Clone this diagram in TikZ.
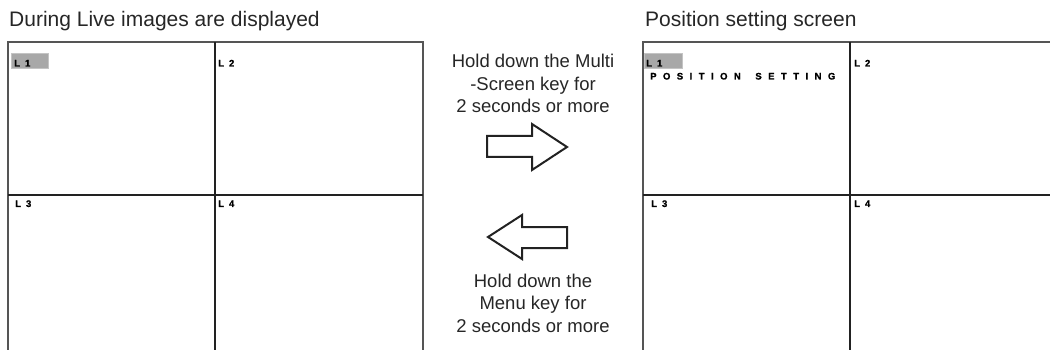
\documentclass[tikz,border=0pt]{standalone}
\usepackage{fontspec}
\setmainfont{Liberation Sans}
\newfontfamily\labfont[LetterSpace=25,FakeBold=1.2]{Liberation Sans Bold}
\newfontfamily\posfont[LetterSpace=68,WordSpace=1.6,FakeBold=1.2]{Liberation Sans Bold}
\definecolor{boxgray}{HTML}{A8A8A8}
\definecolor{boxedge}{HTML}{C4C4C4}
\definecolor{framegray}{HTML}{555555}
\definecolor{divider}{HTML}{222222}
\begin{document}
\begin{tikzpicture}[x=1pt,y=-1pt,
  frameline/.style={draw=framegray,line width=1.3pt},
  divline/.style={draw=divider,line width=2pt},
  heading/.style={anchor=base west,inner sep=0pt,font=\fontsize{21}{25}\selectfont,text=black!85},
  midtext/.style={align=center,inner sep=0pt,font=\fontsize{18.5}{22.5}\selectfont,text=black!85},
  chlabel/.style={anchor=base west,inner sep=0pt,font=\labfont\fontsize{9.5}{10}\selectfont,text=black},
  poslabel/.style={anchor=base west,inner sep=0pt,font=\posfont\fontsize{9.5}{10}\selectfont,text=black},
  graybox/.style={fill=boxgray,draw=boxedge,line width=0.8pt},
  bigarrow/.style={draw=divider,line width=2pt,fill=white,line join=miter}]
\useasboundingbox (0,0) rectangle (1050,350);
% headings
\node[heading] (hleft) at (9,27) {During Live images are displayed};
\node[heading] (hright) at (645,27) {Position setting screen};
% left screen
\draw[frameline] (8,360) -- (8,42) -- (423,42) -- (423,360);
\draw[divline] (215,42) -- (215,360);
\draw[divline] (8,195) -- (423,195);
\fill[graybox] (11,53) rectangle (48,68);
\node[chlabel] (l1) at (14,66.5) {L 1};
\node[chlabel] (l2) at (218,66.5) {L 2};
\node[chlabel] (l3) at (15,207) {L 3};
\node[chlabel] (l4) at (218,207) {L 4};
% right screen
\draw[frameline] (643,360) -- (643,42) -- (1060,42);
\draw[divline] (850,42) -- (850,360);
\draw[divline] (643,195) -- (1060,195);
\fill[graybox] (644,53) rectangle (682,68);
\node[chlabel] (r1) at (646,66.5) {L 1};
\node[poslabel] (rpos) at (650,79.5) {POSITION SETTING};
\node[chlabel] (r2) at (854,66.5) {L 2};
\node[chlabel] (r3) at (651,207) {L 3};
\node[chlabel] (r4) at (854,207) {L 4};
% middle texts
\node[midtext] (tmulti) at (533,83.75) {Hold down the Multi\\-Screen key for\\2 seconds or more};
\node[midtext] (tmenu) at (533,303.25) {Hold down the\\Menu key for\\2 seconds or more};
% arrows
\draw[bigarrow] (487,136) -- (532,136) -- (532,124) -- (567,147) -- (532,170) -- (532,157) -- (487,157) -- cycle;
\draw[bigarrow] (488,237) -- (522,215) -- (522,227) -- (567,227) -- (567,248) -- (522,248) -- (522,259) -- cycle;
\end{tikzpicture}
\end{document}
